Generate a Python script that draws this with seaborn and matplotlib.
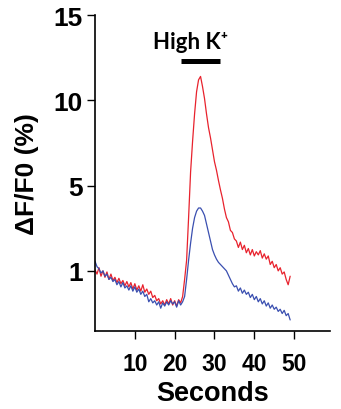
import numpy as np
import pandas as pd
import matplotlib
matplotlib.use("Agg")
import matplotlib.pyplot as plt
import seaborn as sns

# ---- data ----
time_s = np.arange(0, 49.5, 0.5)
red_vals = [
    1.05, 0.85, 1.15, 0.75, 1.0, 0.7, 0.95, 0.6, 0.85, 0.55,
    0.7, 0.45, 0.65, 0.4, 0.55, 0.3, 0.5, 0.25, 0.45, 0.15,
    0.4, 0.1, 0.3, 0.05, 0.35, 0.0, 0.15, -0.1, 0.05, -0.25,
    -0.15, -0.4, -0.3, -0.55, -0.4, -0.6, -0.35, -0.55, -0.3, -0.6,
    -0.4, -0.65, -0.35, -0.5, -0.2, 0.6, 1.5, 3.5, 5.8, 7.6,
    9.2, 10.5, 11.2, 11.4, 10.8, 10.1, 9.2, 8.4, 7.8, 7.1,
    6.4, 5.9, 5.3, 4.8, 4.4, 3.9, 3.5, 3.3, 2.9, 2.8,
    2.5, 2.4, 2.1, 2.35, 2.0, 2.2, 1.85, 2.05, 1.75, 2.0,
    1.7, 1.9, 1.75, 1.95, 1.6, 1.8, 1.55, 1.7, 1.3, 1.45,
    1.15, 1.3, 1.0, 1.15, 0.85, 0.95, 0.6, 0.35, 0.75,
]
blue_vals = [
    1.45, 1.2, 1.1, 0.9, 1.0, 0.75, 0.85, 0.6, 0.7, 0.5,
    0.6, 0.35, 0.5, 0.25, 0.45, 0.2, 0.3, 0.1, 0.3, 0.05,
    0.25, 0.0, 0.15, -0.1, 0.05, -0.2, -0.1, -0.45, -0.3, -0.5,
    -0.4, -0.6, -0.45, -0.75, -0.5, -0.65, -0.45, -0.6, -0.4, -0.55,
    -0.45, -0.7, -0.4, -0.6, -0.45, -0.2, 0.6, 1.5, 2.3, 3.0,
    3.5, 3.8, 3.95, 3.95, 3.8, 3.6, 3.2, 2.8, 2.4, 2.0,
    1.75, 1.55, 1.4, 1.3, 1.2, 1.1, 1.0, 0.8, 0.6, 0.4,
    0.25, 0.3, 0.05, 0.2, -0.05, 0.1, -0.1, 0.0, -0.25, -0.1,
    -0.35, -0.2, -0.45, -0.3, -0.55, -0.4, -0.65, -0.5, -0.75, -0.6,
    -0.8, -0.7, -0.9, -0.8, -1.0, -0.85, -1.1, -1.0, -1.3,
]
series_names = ["red", "blue"]
y_ticks = [1, 5, 10, 15]
x_ticks = [10, 20, 30, 40, 50]
stim_start, stim_end = 21.5, 31.5

df = pd.DataFrame({
    "t": np.concatenate([time_s, time_s]),
    "v": np.concatenate([red_vals, blue_vals]),
    "s": [series_names[0]] * len(time_s) + [series_names[1]] * len(time_s),
})

# piecewise-linear y scale: ticks 1,5,10,15 equally spaced
V = np.array([1.0, 5.0, 10.0, 15.0])
P = np.array([0.0, 1.0, 2.0, 3.0])

def fwd(v):
    v = np.asarray(v, dtype=float)
    out = np.interp(v, V, P)
    out = np.where(v < 1, (v - 1) / 4.0, out)
    out = np.where(v > 15, 3 + (v - 15) / 5.0, out)
    return out

def inv(p):
    p = np.asarray(p, dtype=float)
    out = np.interp(p, P, V)
    out = np.where(p < 0, 1 + 4.0 * p, out)
    out = np.where(p > 3, 15 + 5.0 * (p - 3), out)
    return out

sns.set_style("ticks")
plt.rcParams["font.family"] = ["Liberation Sans", "DejaVu Sans"]
plt.rcParams["text.color"] = "black"
plt.rcParams["axes.labelcolor"] = "black"
plt.rcParams["xtick.color"] = "black"
plt.rcParams["ytick.color"] = "black"

fig = plt.figure(figsize=(3.41, 4.10), dpi=100)
ax = fig.add_axes([0.2786, 0.1902, 0.6891, 0.7707])
ax.set_yscale("function", functions=(fwd, inv))

sns.lineplot(data=df, x="t", y="v", hue="s",
             palette={"red": "#e8222d", "blue": "#3a4fb0"},
             linewidth=0.9, legend=False, ax=ax, estimator=None)

ax.set_xlim(0, 59)
ax.set_ylim(-1.82, 15)
ax.set_yticks(y_ticks)
ax.set_yticklabels([str(v) for v in y_ticks], fontsize=19, fontweight="bold")
ax.set_xticks(x_ticks)
ax.set_xticklabels([str(v) for v in x_ticks], fontsize=16.5, fontweight="bold")
ax.tick_params(axis="both", direction="out", length=6, width=1, pad=3)
ax.tick_params(axis="x", pad=9)
ax.minorticks_off()

sns.despine(ax=ax)
for sp in ["left", "bottom"]:
    ax.spines[sp].set_linewidth(1.2)
    ax.spines[sp].set_color("black")

ax.set_xlabel("Seconds", fontsize=19.5, fontweight="bold", labelpad=4)
ax.set_ylabel("ΔF/F0 (%)", fontsize=19, fontweight="bold", labelpad=10)

trans = ax.get_xaxis_transform()
ax.plot([stim_start, stim_end], [0.855, 0.855], color="black", linewidth=3.6,
        transform=trans, solid_capstyle="butt")
ax.text(23.9, 0.915, "High K⁺", transform=trans, ha="center", va="center",
        fontsize=16, fontweight="bold", family=["Lato", "DejaVu Sans"], color="black")

fig.savefig("out.png", dpi=100)
